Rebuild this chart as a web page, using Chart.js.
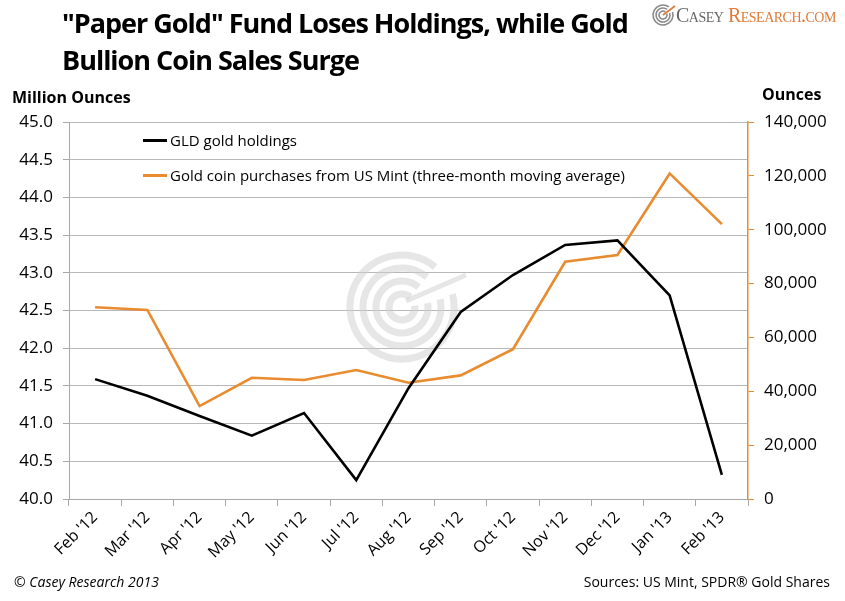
<!DOCTYPE html>
<html>
<head>
<meta charset="utf-8">
<script src="https://cdn.jsdelivr.net/npm/chart.js@4.4.0/dist/chart.umd.min.js"></script>
<style>
  html,body{margin:0;padding:0;background:#fff;}
  #wrap{position:relative;width:845px;height:601px;overflow:hidden;font-family:"Open Sans",sans-serif;}
  #wrap canvas{position:absolute;left:0;top:0;}
  .t{position:absolute;white-space:nowrap;color:#000;}
  #title{left:62px;top:4px;font-weight:700;font-size:27px;line-height:37px;letter-spacing:-1px;}
  #ylab{left:12px;top:86px;font-weight:700;font-size:16px;}
  #y1lab{left:762px;top:83px;font-weight:700;font-size:16px;}
  .leg{position:absolute;font-size:15px;white-space:nowrap;}
  .leg span.ln{display:inline-block;width:24px;height:3px;vertical-align:middle;margin-right:3px;position:relative;top:-1px;}
  #foot1{left:14px;top:572px;font-style:italic;font-size:14px;}
  #foot2{right:15px;top:572px;font-size:14px;}
  #logo{left:676px;top:4px;font-family:"Liberation Serif","DejaVu Serif",serif;font-variant:small-caps;font-size:20px;letter-spacing:-0.5px;}
</style>
</head>
<body>
<div id="wrap">
  <canvas id="c" width="845" height="601"></canvas>
  <div class="t" id="title">"Paper Gold" Fund Loses Holdings, while Gold<br>Bullion Coin Sales Surge</div>
  <div class="t" id="ylab">Million Ounces</div>
  <div class="t" id="y1lab">Ounces</div>
  <div class="leg" id="leg1" style="left:143px;top:130px;"><span class="ln" style="background:#000"></span>GLD gold holdings</div>
  <div class="leg" id="leg2" style="left:143px;top:165px;"><span class="ln" style="background:#e98b2f"></span>Gold coin purchases from US Mint (three-month moving average)</div>
  <div class="t" id="foot1">© Casey Research 2013</div>
  <div class="t" id="foot2">Sources: US Mint, SPDR® Gold Shares</div>
  <div class="t" id="logo"><span style="color:#666">Casey</span> <span style="color:#e07b39">Research.com</span></div>
</div>
<script>
const categories = ["Feb '12","Mar '12","Apr '12","May '12","Jun '12","Jul '12","Aug '12","Sep '12","Oct '12","Nov '12","Dec '12","Jan '13","Feb '13"];
const gldHoldings = [41.59, 41.37, 41.10, 40.84, 41.14, 40.25, 41.47, 42.48, 42.97, 43.37, 43.43, 42.70, 40.32];
const coinPurchases = [71200, 70200, 34500, 45000, 44200, 47900, 43200, 45900, 55600, 88100, 90600, 120900, 102100];
const leftTicks = {min: 40, max: 45, step: 0.5};
const rightTicks = {min: 0, max: 140000, step: 20000};

const ORANGE = '#e98b2f';
const GRID = '#b8b8b8';
const FONT = "'Open Sans', sans-serif";

const watermark = {
  id: 'watermark',
  beforeDatasetsDraw(chart) {
    const ctx = chart.ctx;
    const cx = 402, cy = 307;
    ctx.save();
    ctx.strokeStyle = 'rgba(205,205,205,0.5)';
    ctx.lineWidth = 7;
    [52, 39, 26, 13].forEach((r, i) => {
      ctx.beginPath();
      ctx.arc(cx, cy, r, -0.25 + i * 0.05, Math.PI * 1.72, false);
      ctx.stroke();
    });
    ctx.lineWidth = 5;
    ctx.beginPath();
    ctx.moveTo(cx + 4, cy - 6);
    ctx.lineTo(cx + 64, cy - 32);
    ctx.stroke();
    ctx.restore();
  }
};

const logoIcon = {
  id: 'logoIcon',
  afterDraw(chart) {
    const ctx = chart.ctx;
    const cx = 663, cy = 15;
    ctx.save();
    ctx.strokeStyle = '#8a8a8a';
    ctx.lineWidth = 1.6;
    [10, 7, 4].forEach(r => {
      ctx.beginPath();
      ctx.arc(cx, cy, r, -0.3, Math.PI * 1.7);
      ctx.stroke();
    });
    ctx.strokeStyle = '#e07b39';
    ctx.lineWidth = 1.8;
    ctx.beginPath();
    ctx.moveTo(cx, cy);
    ctx.lineTo(cx + 12, cy - 9);
    ctx.stroke();
    ctx.restore();
  }
};

new Chart(document.getElementById('c'), {
  type: 'line',
  data: {
    labels: categories,
    datasets: [
      {label: 'GLD gold holdings', data: gldHoldings, yAxisID: 'y', borderColor: '#000', borderWidth: 2.6, pointRadius: 0, tension: 0},
      {label: 'Gold coin purchases from US Mint (three-month moving average)', data: coinPurchases, yAxisID: 'y1', borderColor: ORANGE, borderWidth: 2.6, pointRadius: 0, tension: 0}
    ]
  },
  options: {
    responsive: false,
    animation: false,
    layout: {padding: {top: 122, left: 0, right: 0, bottom: 0}},
    plugins: {legend: {display: false}, tooltip: {enabled: false}},
    scales: {
      x: {
        type: 'category',
        offset: true,
        grid: {offset: true, drawOnChartArea: false, drawTicks: true, tickLength: 7, color: '#a8a8a8'},
        border: {color: '#a8a8a8', width: 1},
        ticks: {maxRotation: 45, minRotation: 45, color: '#000', font: {family: FONT, size: 16}, padding: 2},
        afterFit(s) { s.height = 102; }
      },
      y: {
        position: 'left',
        min: leftTicks.min, max: leftTicks.max,
        ticks: {stepSize: leftTicks.step, color: '#000', font: {family: FONT, size: 17}, padding: 10,
          callback: v => Number(v).toFixed(1)},
        grid: {color: GRID, tickColor: '#a8a8a8', tickLength: 6},
        border: {color: '#a8a8a8', width: 1},
        afterFit(s) { s.width = 69; }
      },
      y1: {
        position: 'right',
        min: rightTicks.min, max: rightTicks.max,
        ticks: {stepSize: rightTicks.step, color: '#000', font: {family: FONT, size: 17}, padding: 10,
          callback: v => Number(v).toLocaleString('en-US')},
        grid: {drawOnChartArea: false, tickColor: ORANGE, tickLength: 6},
        border: {color: ORANGE, width: 1.5},
        afterFit(s) { s.width = 97; }
      }
    }
  },
  plugins: [watermark, logoIcon]
});
</script>
</body>
</html>
